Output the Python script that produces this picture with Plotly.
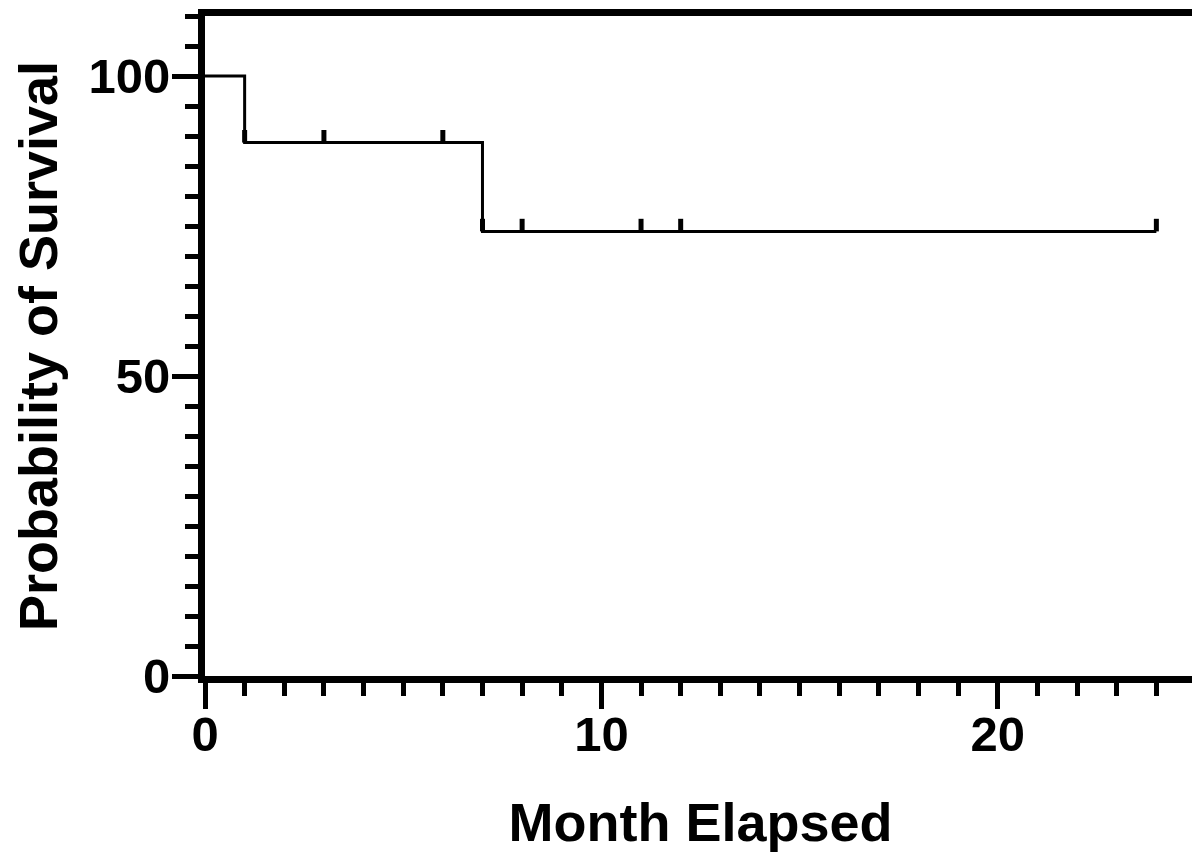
import plotly.graph_objects as go

# Kaplan-Meier step data
step_months = [0, 1, 7, 24]
step_survival = [100, 88.9, 74.1, 74.1]

# Censored observations
censor_months = [1, 3, 6, 7, 8, 11, 12, 24]
censor_survival = [88.9, 88.9, 88.9, 74.1, 74.1, 74.1, 74.1, 74.1]

x_ticks = [0, 10, 20]
y_ticks = [0, 50, 100]

FONT = "Liberation Sans"

fig = go.Figure()
fig.add_trace(go.Scatter(
    x=step_months, y=step_survival, mode="lines",
    line=dict(shape="hv", color="black", width=3),
    showlegend=False, hoverinfo="skip",
))
fig.add_trace(go.Scatter(
    x=censor_months, y=censor_survival, mode="markers",
    marker=dict(size=1, color="rgba(0,0,0,0)"),
    error_y=dict(type="data", symmetric=False,
                 array=[2.1] * len(censor_months),
                 arrayminus=[0] * len(censor_months),
                 width=0, thickness=5, color="black"),
    showlegend=False, hoverinfo="skip",
))

axis_common = dict(
    showline=True, linecolor="black", linewidth=7, mirror=True,
    showgrid=False, zeroline=False, automargin=False,
    ticks="outside", tickcolor="black", tickwidth=5,
    tickfont=dict(family=FONT, size=49, color="black", weight="bold"),
)

fig.update_xaxes(
    range=[0, 25], tickvals=x_ticks, ticklen=26, ticklabelstandoff=-17,
    minor=dict(dtick=1, ticks="outside", ticklen=13, tickwidth=5, tickcolor="black"),
    title=dict(text="Month Elapsed", standoff=46,
               font=dict(family=FONT, size=54, color="black", weight="bold")),
    **axis_common,
)
fig.update_yaxes(
    range=[0, 110], tickvals=y_ticks, ticklen=26, ticklabelstandoff=-8,
    minor=dict(dtick=5, ticks="outside", ticklen=13, tickwidth=5, tickcolor="black"),
    title=dict(text="Probability of Survival", standoff=23,
               font=dict(family=FONT, size=54, color="black", weight="bold")),
    **axis_common,
)

fig.update_layout(
    width=1192, height=851,
    margin=dict(l=197, r=4, t=8, b=183),
    paper_bgcolor="white", plot_bgcolor="white",
)

fig.write_html("out.html")
